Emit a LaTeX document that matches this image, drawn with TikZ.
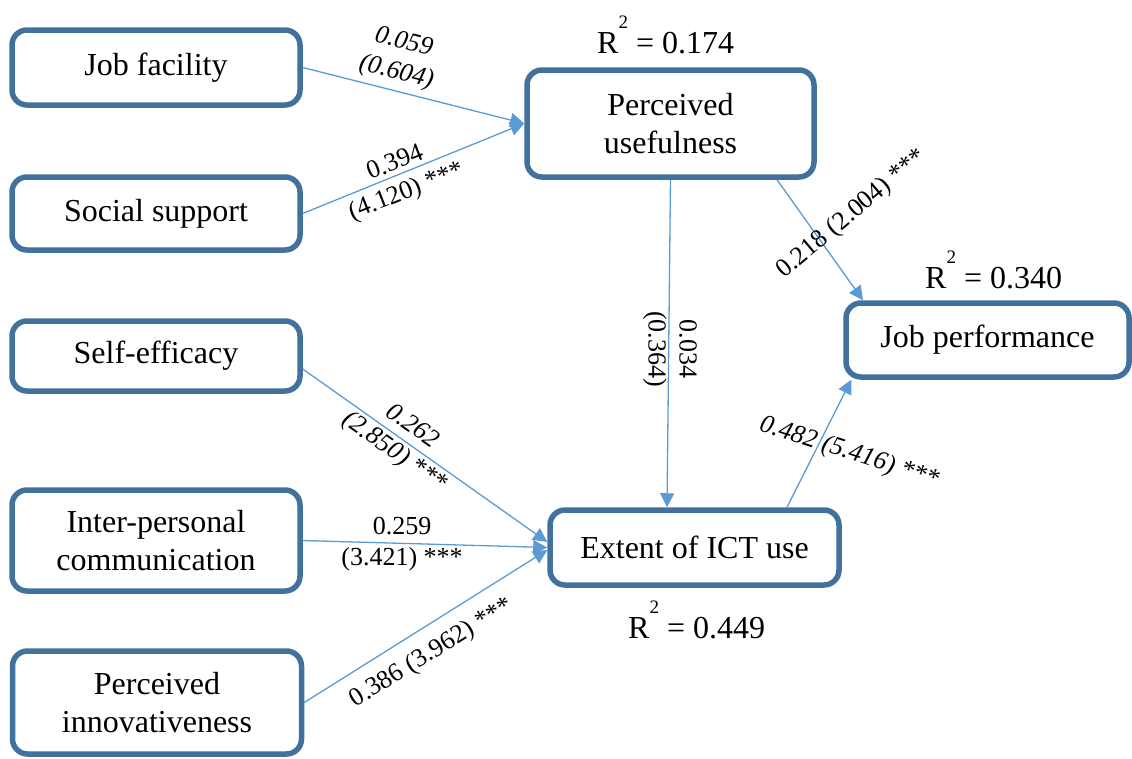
\documentclass[tikz,border=0pt]{standalone}
\usepackage{fontspec}
\setmainfont{Liberation Serif}
\usetikzlibrary{arrows.meta}
\definecolor{boxblue}{HTML}{41719C}
\definecolor{arrblue}{HTML}{5B9BD5}
\newcommand{\rsqtext}[1]{R\raisebox{25pt}{\fontsize{19}{19}\selectfont 2} = #1}
\begin{document}
\begin{tikzpicture}[x=1pt,y=-1pt,
  box/.style={draw=boxblue, line width=5.5pt, rounded corners=15pt, fill=white,
    align=center, font=\fontsize{32}{38.4}\selectfont, inner sep=0pt},
  conn/.style={draw=arrblue, line width=1.3pt, -{Triangle[length=14pt,width=14pt]}},
  lab/.style={font=\fontsize{26}{31}\selectfont, align=center, inner sep=0pt},
  labit/.style={font=\fontsize{26}{31}\selectfont\itshape, align=center, inner sep=0pt},
  rsq/.style={font=\fontsize{32}{38}\selectfont, anchor=base west, inner sep=0pt}]
\useasboundingbox (0,0) rectangle (1132,758);

% boxes
\node[box, minimum width=288pt, minimum height=75pt] (jf) at (156,67.5) {Job facility};
\node[box, minimum width=288pt, minimum height=73pt] (ss) at (156,213.5) {Social support};
\node[box, minimum width=288pt, minimum height=70pt] (se) at (156,356) {Self-efficacy};
\node[box, minimum width=288pt, minimum height=101pt] (ip) at (156,540.5) {Inter-personal\\communication};
\node[box, minimum width=289pt, minimum height=103pt] (pi) at (157,702.5) {Perceived\\innovativeness};
\node[box, minimum width=287pt, minimum height=107pt] (pu) at (670.5,123.5) {Perceived\\usefulness};
\node[box, minimum width=283pt, minimum height=74pt] (jp) at (987.5,340) {Job performance};
\node[box, minimum width=289pt, minimum height=75pt] (ext) at (694.5,547.5) {Extent of ICT use};

% connectors
\draw[conn] (jf.east) -- (pu.west);
\draw[conn] (ss.east) -- (pu.west);
\draw[conn] (pu.south) -- ([xshift=-27.5pt]ext.north);
\draw[conn] ([xshift=106.5pt]pu.south) -- ([xshift=-124.5pt]jp.north);
\draw[conn] ([xshift=92.5pt]ext.north) -- ([xshift=8pt]jp.south west);
\draw[conn] ([yshift=-13pt]se.east) -- ([yshift=5.5pt]ext.west);
\draw[conn] (ip.east) -- (ext.west);
\draw[conn] (pi.east) -- ([yshift=-2.5pt]ext.west);

% path labels
\node[labit, rotate=-14] (l1) at (400,58) {0.059\\(0.604)};
\node[lab, rotate=21.5] (l2) at (401,178) {0.394\\(4.120) ***};
\node[lab, rotate=-90] (l3) at (670,349) {0.034\\(0.364)};
\node[lab, rotate=40] (l4) at (852,214) {0.218 (2.004) ***};
\node[labit, rotate=-18] (l5) at (849,453) {0.482 (5.416) ***};
\node[labit, rotate=-35] (l6) at (403,440) {0.262\\(2.850) ***};
\node[lab] (l7) at (402,544) {0.259\\(3.421) ***};
\node[lab, rotate=31.6] (l8) at (432,653) {0.386 (3.962) ***};

% R squared
\node[rsq] (r1) at (597,53) {\rsqtext{0.174}};
\node[rsq] (r2) at (925,288) {\rsqtext{0.340}};
\node[rsq] (r3) at (628,638) {\rsqtext{0.449}};
\end{tikzpicture}
\end{document}
